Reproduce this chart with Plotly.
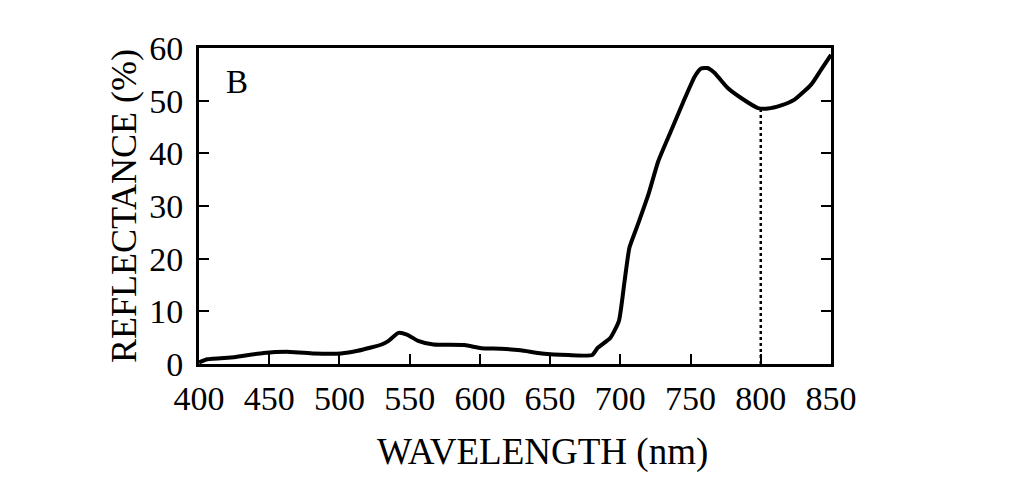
import plotly.graph_objects as go

# reflectance spectrum
wavelength = [400, 406, 425, 446, 465, 482, 501, 513, 530, 535, 542, 548, 556, 567,
              589, 601, 615, 629, 644, 663, 680, 684, 693, 699, 703, 706.5, 712.5,
              720, 727, 736, 746, 753, 757.5, 762, 767, 776.5, 786, 798, 805, 814.5,
              824, 836, 843, 850]
reflectance = [0.3, 0.9, 1.3, 2.1, 2.3, 2.0, 2.0, 2.5, 3.7, 4.4, 5.9, 5.6, 4.4, 3.7,
               3.6, 3.0, 2.9, 2.6, 2.0, 1.7, 1.7, 3.1, 5.0, 8.2, 15.7, 22.1, 26.5,
               32.2, 38.5, 44.2, 50.5, 54.6, 56.1, 56.2, 55.3, 52.4, 50.5, 48.6, 48.5, 49.1,
               50.2, 53.1, 55.9, 58.7]

# dotted marker at the local minimum
min_x = [800, 800]
min_y = [0, 48.6]

x_ticks = [400, 450, 500, 550, 600, 650, 700, 750, 800, 850]
y_ticks = [0, 10, 20, 30, 40, 50, 60]

serif = "Liberation Serif"

fig = go.Figure()
fig.add_trace(go.Scatter(x=min_x, y=min_y, mode="lines",
                         line=dict(color="black", width=2.5, dash="dot"),
                         showlegend=False))
fig.add_trace(go.Scatter(x=wavelength, y=reflectance, mode="lines",
                         line=dict(color="black", width=4, shape="spline", smoothing=0.5),
                         showlegend=False))

# panel letter
fig.add_annotation(text="B", x=0.04, y=0.892, xref="paper", yref="paper",
                   xanchor="left", yanchor="middle", showarrow=False,
                   font=dict(family=serif, size=33, color="black"))

# x title sits a bit right of centre in the original, so place it by hand
fig.add_annotation(text="WAVELENGTH (nm)", x=0.543, y=-0.278, xref="paper", yref="paper",
                   xanchor="center", yanchor="middle", showarrow=False,
                   font=dict(family=serif, size=37, color="black"))

# page body adds ~8px offset, margins compensate for it
fig.update_layout(
    width=1024, height=488,
    margin=dict(l=191, r=201, t=40, b=132),
    paper_bgcolor="white", plot_bgcolor="white",
    font=dict(family=serif, size=34, color="black"),
)
fig.update_xaxes(range=[400, 850], tickvals=x_ticks, ticks="inside", ticklen=10,
                 tickwidth=2, tickcolor="black", showline=True, linewidth=3,
                 linecolor="black", mirror=True, showgrid=False, zeroline=False,
                 tickfont=dict(family=serif, size=34, color="black"),
                 ticklabelstandoff=2)
fig.update_yaxes(range=[0, 60], tickvals=y_ticks, ticks="inside", ticklen=10,
                 tickwidth=2, tickcolor="black", showline=True, linewidth=3,
                 linecolor="black", mirror="ticks", showgrid=False, zeroline=False,
                 title=dict(text="REFLECTANCE (%)", standoff=2,
                            font=dict(family=serif, size=36, color="black")),
                 tickfont=dict(family=serif, size=34, color="black"),
                 ticklabelstandoff=6)

fig.write_html("out.html")
